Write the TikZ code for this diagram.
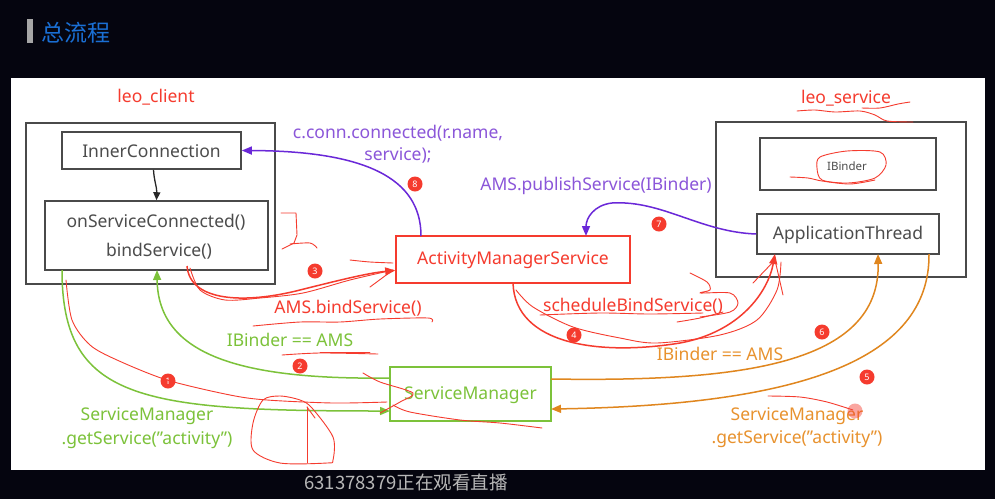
\documentclass[tikz,border=0pt]{standalone}
\usepackage{fontspec}
\setmainfont{Noto Sans}
\newfontfamily\cjk{Noto Sans CJK SC}
\usetikzlibrary{arrows.meta,calc}
\definecolor{bgdark}{HTML}{05050F}
\definecolor{boxgray}{HTML}{4A4A4A}
\definecolor{txtgray}{HTML}{4C4C4C}
\definecolor{myred}{HTML}{F53B2E}
\definecolor{mypurple}{HTML}{6A28D8}
\definecolor{purpletxt}{HTML}{8B56D9}
\definecolor{mygreen}{HTML}{7CC23A}
\definecolor{myorange}{HTML}{E0861E}
\definecolor{orangetxt}{HTML}{E8922E}
\definecolor{headblue}{HTML}{1A6FD4}
\tikzset{
  graybox/.style={draw=boxgray, line width=1.6pt, fill=white, inner sep=0pt},
  lbl/.style={font=\fontsize{17.5}{21}\selectfont, inner sep=0pt},
  boxtxt/.style={lbl, text=txtgray},
  badge/.style={circle, fill=myred, text=white, inner sep=0pt, minimum size=15pt, font=\fontsize{9}{10}\selectfont\bfseries},
  tipA/.style={-{Triangle[length=10pt,width=8pt]}},
  scrib/.style={draw=myred, line width=0.9pt, line cap=round, line join=round},
}
\begin{document}
\begin{tikzpicture}[x=1pt,y=-1pt]
\useasboundingbox (0,0) rectangle (995,499);
\fill[bgdark] (0,0) rectangle (995,499);
% header
\fill[gray!70] (27,19) rectangle (33,43);
\node[text=headblue, font=\cjk\fontsize{23}{26}\selectfont, anchor=west, inner sep=0pt] (title) at (41,33) {总流程};
% white panel
\fill[white] (11,78) rectangle (985,470);
\node[text=black!28, font=\cjk\fontsize{18.5}{20}\selectfont, inner sep=0pt] (viewers) at (406,482) {631378379正在观看直播};

% client side
\node[lbl, text=myred] (clientlbl) at (156,97) {leo\_client};
\node[graybox, minimum width=249pt, minimum height=161pt] (client) at (150.5,203.5) {};
\node[graybox, minimum width=179pt, minimum height=37pt] (ic) at (151.5,150.5) {};
\node[boxtxt] (ictxt) at (151.5,151) {InnerConnection};
\node[graybox, minimum width=223pt, minimum height=69pt] (osc) at (156.5,235.5) {};
\node[boxtxt] (osctxt1) at (156,222) {onServiceConnected()};
\node[boxtxt] (osctxt2) at (159,251) {bindService()};

% service side
\node[lbl, text=myred] (servlbl) at (846,98) {leo\_service};
\node[graybox, minimum width=250pt, minimum height=155pt] (serv) at (841,199.5) {};
\node[graybox, minimum width=176pt, minimum height=52pt] (ib) at (848,164) {};
\node[text=txtgray, font=\fontsize{11.5}{13}\selectfont, inner sep=0pt] (ibtxt) at (847,166) {IBinder};
\node[graybox, minimum width=182pt, minimum height=40pt] (apt) at (848,234) {};
\node[boxtxt] (apttxt) at (848,235) {ApplicationThread};

% AMS and SM
\node[draw=myred, line width=1.6pt, fill=white, minimum width=234pt, minimum height=47pt, inner sep=0pt] (ams) at (513,259.5) {};
\node[lbl, text=myred] (amstxt) at (513,260) {ActivityManagerService};
\node[draw=mygreen, line width=1.6pt, fill=white, minimum width=161pt, minimum height=54pt, inner sep=0pt] (sm) at (470.5,394) {};
\node[lbl, text=mygreen] (smtxt) at (470.5,395) {ServiceManager};

% named endpoints
\coordinate (icS) at ($(ic.south)+(2,0)$);
\coordinate (oscN) at ($(osc.north)+(0,0)$);
\coordinate (amsTopL) at (421,236);
\coordinate (amsTopR) at (586,236);
\coordinate (amsW) at ($(ams.west)+(0,11)$);
\coordinate (amsBot) at (513,283);
\coordinate (aptBot1) at (775,254);
\coordinate (aptBot2) at (878,254);
\coordinate (aptBot3) at (929,254);
\coordinate (oscB1) at (62,270);
\coordinate (oscB2) at (157,270);
\coordinate (oscB3) at (187,266);
\coordinate (smW1) at (390,378);
\coordinate (smW2) at (390,411);
\coordinate (smE1) at (551,379);
\coordinate (smE2) at (551,409);

% black arrow
\draw[line width=1.3pt, -{Triangle[length=8pt,width=7pt]}, black!85] (icS) .. controls (154,180) and (157,188) .. (oscN);

% purple arrows
\draw[mypurple, line width=1.5pt, tipA] (amsTopL) .. controls (421,178) and (365,151) .. (ic.east);
\draw[mypurple, line width=1.5pt, tipA] (apt.west) .. controls (700,232) and (662,200) .. (612,203) .. controls (594,205) and (586,218) .. (amsTopR);
\node[text=purpletxt, font=\fontsize{17.5}{22}\selectfont, align=center, inner sep=0pt] (connlbl) at (398,144) {c.conn.connected(r.name,\\service);};
\node[lbl, text=purpletxt] (publbl) at (596,186) {AMS.publishService(IBinder)};

% red arrows
\draw[myred, line width=1.5pt, tipA] (oscB3) .. controls (190,302) and (245,304) .. (300,290) .. controls (340,280) and (368,273) .. (amsW);
\draw[myred, line width=1.5pt, tipA] (amsBot) .. controls (515,345) and (600,356) .. (680,343) .. controls (740,332) and (768,292) .. (aptBot1);
\node[lbl, text=myred] (bindlbl) at (348,308) {AMS.bindService()};
\node[lbl, text=myred] (schedlbl) at (633,306) {scheduleBindService()};

% green arrows
\draw[mygreen, line width=1.5pt, tipA] (oscB1) .. controls (62,400) and (140,411) .. (smW2);
\draw[mygreen, line width=1.5pt, tipA] (smW1) .. controls (240,380) and (158,355) .. (oscB2);
\node[lbl, text=mygreen] (ibamsG) at (290,340) {IBinder == AMS};
\node[text=mygreen, font=\fontsize{17.5}{24}\selectfont, align=center, inner sep=0pt] (getG) at (147,428) {ServiceManager\\.getService(\symbol{34}activity\symbol{34})};

% orange arrows
\draw[myorange, line width=1.5pt, tipA] (smE1) .. controls (740,382) and (880,365) .. (aptBot2);
\draw[myorange, line width=1.5pt, tipA] (aptBot3) .. controls (930,360) and (800,405) .. (smE2);
\node[lbl, text=orangetxt] (ibamsO) at (720,354) {IBinder == AMS};
\node[text=orangetxt, font=\fontsize{17.5}{23}\selectfont, align=center, inner sep=0pt] (getO) at (797,428) {ServiceManager\\.getService(\symbol{34}activity\symbol{34})};

% badges
\node[badge] (b1) at (168,381) {1};
\node[badge] (b2) at (300,366) {2};
\node[badge] (b3) at (315,271) {3};
\node[badge] (b4) at (574,335) {4};
\node[badge] (b5) at (867,377) {5};
\node[badge] (b6) at (822,332) {6};
\node[badge] (b7) at (659,224) {7};
\node[badge] (b8) at (415,184) {8};

% hand-drawn red annotations
\draw[scrib] plot[smooth] coordinates {(797,111) (815,110) (835,112) (860,111) (875,115) (887,121) (913,122)};
\draw[scrib] plot[smooth] coordinates {(862,108) (880,108) (898,104) (910,102)};
\draw[scrib] plot[smooth cycle] coordinates {(820,157) (847,151) (880,152) (886,165) (875,178) (848,183) (822,180) (817,168)};
\draw[scrib] plot[smooth] coordinates {(790,177) (808,178) (822,181) (850,184) (875,180)};
\draw[scrib] (281,213) -- (296,213) -- (297,235) -- (294,243) -- (282,249);
\draw[scrib] plot[smooth] coordinates {(290,244) (310,243) (317,248)};
\draw[scrib] plot[smooth] coordinates {(190,268) (200,290) (225,300) (260,298) (303,293) (350,280) (393,270)};
\draw[scrib] plot[smooth] coordinates {(350,260) (370,262) (393,263)};
\draw[scrib] (370,287) -- (393,270);
\draw[scrib] plot[smooth] coordinates {(253,326) (300,322) (340,322) (380,319) (428,318) (432,322)};
\draw[scrib] plot[smooth] coordinates {(282,355) (320,353) (378,354)};
\draw[scrib] (320,352) -- (370,352);
\draw[scrib] plot[smooth] coordinates {(66,280) (72,320) (90,345) (117,360) (167,380) (230,395) (267,400) (333,403) (387,402)};
\draw[scrib] plot[smooth cycle] coordinates {(263,400) (280,396) (300,400) (312,408) (333,437) (333,460) (327,463) (280,463) (253,450) (253,423)};
\draw[scrib] (307,407) -- (307,463);
\draw[scrib] (307,407) -- (315,418);
\draw[scrib] plot[smooth] coordinates {(363,373) (380,382) (413,393) (400,402) (380,413)};
\draw[scrib] plot[smooth] coordinates {(393,405) (410,412) (460,420) (500,423) (542,428)};
\draw[scrib] plot[smooth] coordinates {(540,315) (600,313) (650,314) (703,313)};
\draw[scrib] plot[smooth] coordinates {(677,322) (700,318) (723,312)};
\draw[scrib] plot[smooth] coordinates {(690,273) (707,282) (710,290) (700,293) (730,293) (738,303) (730,312) (700,317)};
\draw[scrib] plot[smooth] coordinates {(516,290) (533,307) (573,327) (620,338) (657,343) (720,335) (757,320) (777,290) (781,262)};
\draw[scrib] (753,283) -- (775,260) -- (783,295);
\draw[scrib] plot[smooth] coordinates {(768,396) (800,397) (827,402) (853,410)};
\fill[myred, opacity=0.45] (855,411) circle (7.5);
\end{tikzpicture}
\end{document}
